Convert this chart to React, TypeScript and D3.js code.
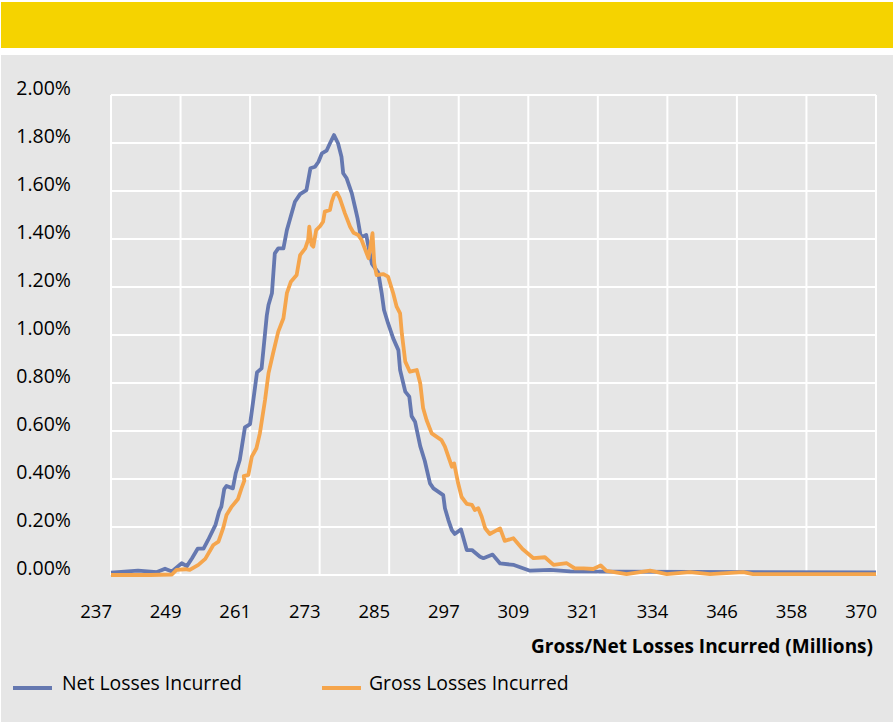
import React from "react";
import * as d3 from "d3";

// Tick labels along x (millions) and y (%)
const xTickValues = [237, 249.1, 261.2, 273.3, 285.4, 297.5, 309.6, 321.7, 333.8, 345.9, 358, 370.1];
const xTickLabels = ["237", "249", "261", "273", "285", "297", "309", "321", "334", "346", "358", "370"];
const yTickValues = [0, 0.2, 0.4, 0.6, 0.8, 1.0, 1.2, 1.4, 1.6, 1.8, 2.0];

// Net Losses Incurred: [losses (millions), probability %]
const netX = [237.0, 241.7, 245.0, 246.4, 247.6, 249.3, 250.2, 251.1, 252.1, 253.1, 253.9, 255.2, 255.8, 256.2, 256.7, 257.1, 258.2, 258.7, 259.4, 260.3, 261.2, 261.8, 262.4, 263.2, 263.8, 264.1, 264.4, 265.0, 265.5, 266.1, 267.0, 267.6, 268.1, 269.0, 269.9, 271.0, 271.7, 272.5, 273.1, 273.7, 274.5, 275.1, 275.8, 276.5, 277.1, 277.4, 278.0, 278.9, 279.5, 279.9, 280.4, 280.8, 281.4, 281.8, 282.4, 283.5, 284.1, 284.5, 285.2, 286.1, 287.0, 287.3, 288.2, 288.9, 289.3, 289.9, 290.8, 291.6, 292.5, 293.1, 294.8, 295.1, 295.7, 296.3, 296.8, 297.9, 298.9, 299.8, 301.2, 301.8, 303.4, 304.7, 307.1, 309.9, 313.4, 316.9, 325.6, 370.1];
const netY = [0.010, 0.018, 0.012, 0.026, 0.015, 0.049, 0.037, 0.070, 0.110, 0.110, 0.146, 0.210, 0.264, 0.285, 0.358, 0.371, 0.361, 0.424, 0.479, 0.615, 0.629, 0.735, 0.844, 0.861, 1.007, 1.080, 1.125, 1.174, 1.340, 1.361, 1.361, 1.437, 1.479, 1.555, 1.587, 1.604, 1.695, 1.701, 1.722, 1.757, 1.768, 1.799, 1.833, 1.799, 1.743, 1.674, 1.653, 1.590, 1.528, 1.486, 1.417, 1.410, 1.417, 1.368, 1.296, 1.260, 1.174, 1.104, 1.049, 0.986, 0.937, 0.854, 0.764, 0.743, 0.662, 0.639, 0.537, 0.475, 0.382, 0.361, 0.333, 0.278, 0.229, 0.187, 0.171, 0.190, 0.104, 0.104, 0.076, 0.070, 0.085, 0.048, 0.042, 0.018, 0.021, 0.015, 0.014, 0.011];

// Gross Losses Incurred
const grossX = [237.0, 243.8, 247.6, 248.4, 249.9, 250.7, 252.2, 253.4, 254.8, 255.7, 256.5, 257.1, 258.0, 259.1, 259.7, 260.2, 260.1, 260.9, 261.5, 262.3, 262.9, 263.8, 264.4, 265.2, 266.1, 267.0, 267.6, 268.3, 269.3, 269.9, 270.8, 271.3, 271.5, 271.9, 272.2, 272.7, 273.4, 273.9, 274.2, 275.1, 275.4, 275.8, 276.3, 276.8, 277.7, 278.6, 279.2, 280.0, 280.6, 281.8, 282.5, 282.8, 283.2, 284.4, 285.2, 286.1, 286.7, 287.3, 287.6, 288.2, 289.0, 290.2, 290.8, 291.3, 291.9, 292.8, 294.5, 295.1, 296.0, 296.3, 296.7, 297.4, 298.0, 298.9, 299.8, 300.3, 300.9, 301.5, 302.1, 302.9, 304.7, 305.5, 307.0, 308.6, 310.5, 312.5, 314.0, 316.3, 317.7, 319.2, 320.9, 322.2, 323.2, 326.7, 330.8, 333.7, 337.7, 341.2, 347.0, 348.7, 370.1];
const grossY = [0.000, 0.000, 0.002, 0.021, 0.024, 0.021, 0.042, 0.067, 0.125, 0.139, 0.194, 0.250, 0.285, 0.317, 0.361, 0.393, 0.412, 0.417, 0.493, 0.528, 0.590, 0.729, 0.840, 0.924, 1.014, 1.070, 1.174, 1.222, 1.250, 1.333, 1.361, 1.396, 1.451, 1.375, 1.368, 1.437, 1.454, 1.472, 1.514, 1.521, 1.555, 1.583, 1.593, 1.570, 1.507, 1.451, 1.426, 1.417, 1.396, 1.320, 1.424, 1.299, 1.250, 1.254, 1.243, 1.174, 1.118, 1.090, 1.007, 0.889, 0.847, 0.854, 0.799, 0.696, 0.646, 0.590, 0.562, 0.535, 0.472, 0.451, 0.465, 0.382, 0.325, 0.296, 0.292, 0.271, 0.278, 0.243, 0.195, 0.171, 0.194, 0.142, 0.153, 0.108, 0.070, 0.074, 0.042, 0.049, 0.028, 0.028, 0.025, 0.040, 0.017, 0.004, 0.018, 0.004, 0.012, 0.004, 0.012, 0.004, 0.004];

const seriesNames = ["Net Losses Incurred", "Gross Losses Incurred"];
const seriesColors = ["#6578b0", "#f5a54c"];
const xTitle = "Gross/Net Losses Incurred (Millions)";

const FONT = "'Open Sans', 'Noto Sans', sans-serif";

export default function App() {
  const W = 895, H = 724;
  const left = 111, right = 876, top = 95, bottom = 575;
  const x = d3.scaleLinear().domain([237, 370.1]).range([left, right]);
  const y = d3.scaleLinear().domain([0, 2]).range([bottom, top]);
  const line = d3.line<[number, number]>().x((d) => x(d[0])).y((d) => y(d[1]));
  const net: [number, number][] = netX.map((v, i) => [v, netY[i]]);
  const gross: [number, number][] = grossX.map((v, i) => [v, grossY[i]]);
  const pct = d3.format(".2f");

  return (
    <svg width={W} height={H} style={{ position: "absolute", left: 0, top: 0, background: "#fff" }} fontFamily={FONT}>
      <rect x={1} y={2} width={892} height={46} fill="#f5d300" />
      <rect x={1} y={55} width={892} height={667} fill="#e6e6e6" />
      {/* grid */}
      {yTickValues.map((t) => (
        <line key={"h" + t} x1={left} x2={right} y1={y(t)} y2={y(t)} stroke="#fff" strokeWidth={2} />
      ))}
      {xTickValues.map((t) => (
        <line key={"v" + t} x1={x(t)} x2={x(t)} y1={top} y2={bottom} stroke="#fff" strokeWidth={2} />
      ))}
      {/* y labels */}
      {yTickValues.map((t) => (
        <text key={"yl" + t} x={71} y={y(t)} textAnchor="end" fontSize={19.5} fill="#000">
          {pct(t) + "%"}
        </text>
      ))}
      {/* x labels */}
      {xTickValues.map((t, i) => (
        <text key={"xl" + t} x={x(t) + 1} y={618} textAnchor="end" fontSize={18.5} fill="#000">
          {xTickLabels[i]}
        </text>
      ))}
      <text x={873} y={653} textAnchor="end" fontSize={19} fontWeight="bold" fill="#000">
        {xTitle}
      </text>
      {/* series */}
      <path d={line(net) || ""} fill="none" stroke={seriesColors[0]} strokeWidth={3.8} strokeLinejoin="round" />
      <path d={line(gross) || ""} fill="none" stroke={seriesColors[1]} strokeWidth={3.8} strokeLinejoin="round" />
      {/* legend */}
      <line x1={13} x2={52} y1={688} y2={688} stroke={seriesColors[0]} strokeWidth={3.8} />
      <text x={62} y={690} fontSize={19.4} fill="#000">{seriesNames[0]}</text>
      <line x1={322} x2={361} y1={688} y2={688} stroke={seriesColors[1]} strokeWidth={3.8} />
      <text x={369} y={690} fontSize={19.4} fill="#000">{seriesNames[1]}</text>
    </svg>
  );
}
